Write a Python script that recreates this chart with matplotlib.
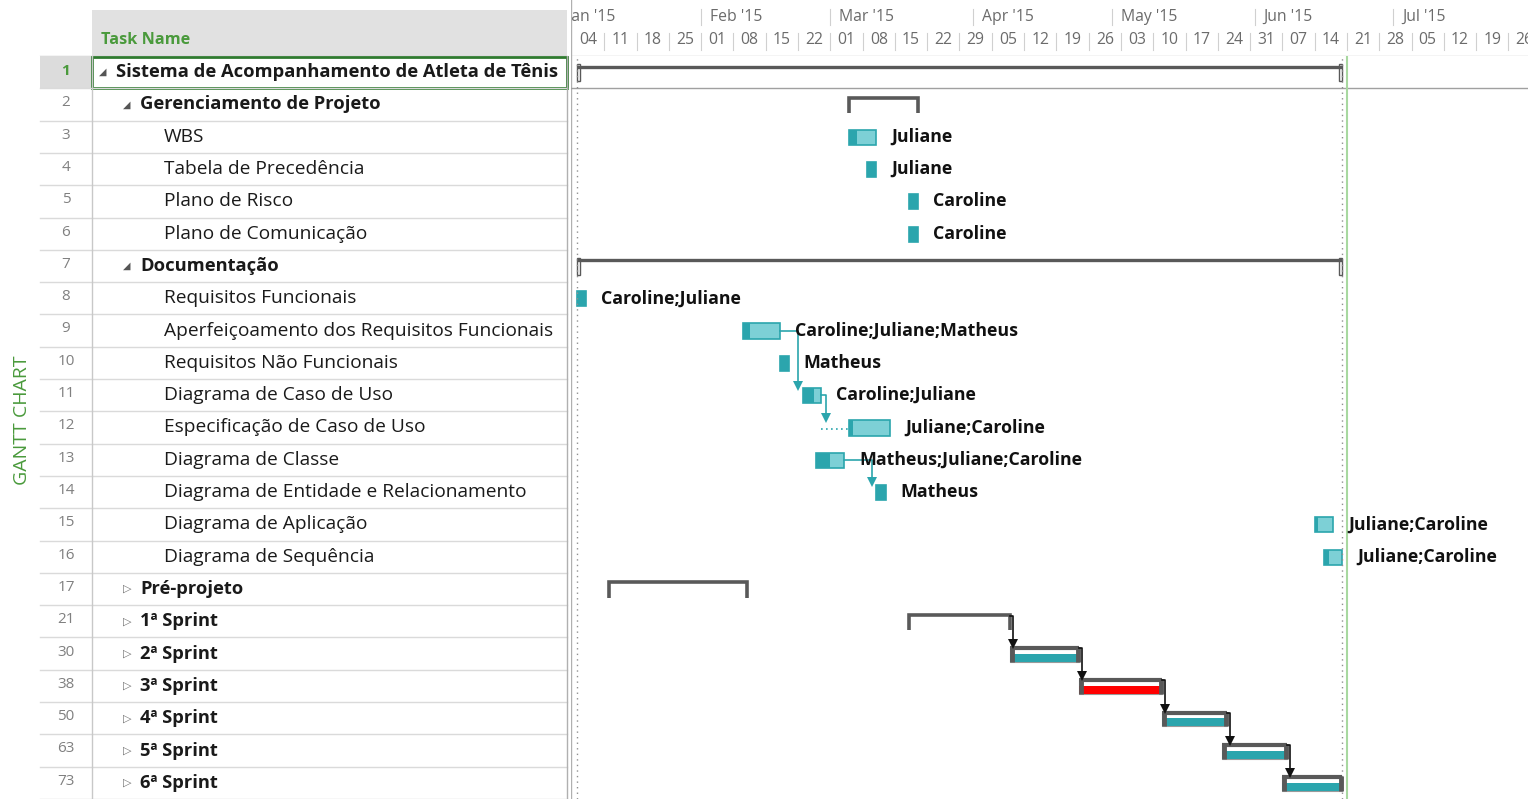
import datetime as dt
import matplotlib
matplotlib.use("Agg")
import matplotlib.pyplot as plt
import matplotlib.dates as mdates
from matplotlib.patches import Rectangle

plt.rcParams['font.family'] = ['Open Sans', 'DejaVu Sans']

# --- dados do projeto ---
row_ids = [1, 2, 3, 4, 5, 6, 7, 8, 9, 10, 11, 12, 13, 14, 15, 16, 17, 21, 30, 38, 50, 63, 73]
task_names = [
    "Sistema de Acompanhamento de Atleta de Tênis",
    "Gerenciamento de Projeto",
    "WBS",
    "Tabela de Precedência",
    "Plano de Risco",
    "Plano de Comunicação",
    "Documentação",
    "Requisitos Funcionais",
    "Aperfeiçoamento dos Requisitos Funcionais",
    "Requisitos Não Funcionais",
    "Diagrama de Caso de Uso",
    "Especificação de Caso de Uso",
    "Diagrama de Classe",
    "Diagrama de Entidade e Relacionamento",
    "Diagrama de Aplicação",
    "Diagrama de Sequência",
    "Pré-projeto",
    "1ª Sprint", "2ª Sprint", "3ª Sprint", "4ª Sprint", "5ª Sprint", "6ª Sprint",
]
levels = [0, 1, 2, 2, 2, 2, 1, 2, 2, 2, 2, 2, 2, 2, 2, 2, 1, 1, 1, 1, 1, 1, 1]
# 'open' = resumo expandido, 'closed' = resumo recolhido, '' = tarefa
outline = ['open', 'open', '', '', '', '', 'open', '', '', '', '', '', '', '', '', '',
           'closed', 'closed', 'closed', 'closed', 'closed', 'closed', 'closed']
kinds = ['proj', 'summary', 'task', 'task', 'task', 'task', 'proj',
         'task', 'task', 'task', 'task', 'task', 'task', 'task', 'task', 'task',
         'summary', 'summary', 'sprint', 'sprint', 'sprint', 'sprint', 'sprint']
starts = ['2015-01-05', '2015-03-05', '2015-03-05', '2015-03-09', '2015-03-18', '2015-03-18',
          '2015-01-05', '2015-01-05', '2015-02-10', '2015-02-18', '2015-02-23', '2015-03-05',
          '2015-02-26', '2015-03-11', '2015-06-14', '2015-06-16', '2015-01-12', '2015-03-18',
          '2015-04-09', '2015-04-24', '2015-05-12', '2015-05-25', '2015-06-07']
ends = ['2015-06-20', '2015-03-20', '2015-03-11', '2015-03-11', '2015-03-20', '2015-03-20',
        '2015-06-20', '2015-01-07', '2015-02-18', '2015-02-20', '2015-02-27', '2015-03-14',
        '2015-03-04', '2015-03-13', '2015-06-18', '2015-06-20', '2015-02-11', '2015-04-09',
        '2015-04-24', '2015-05-12', '2015-05-26', '2015-06-08', '2015-06-20']
progress = [0, 0, 0.3, 1, 1, 1, 0, 1, 0.2, 1, 0.6, 0.1, 0.5, 1, 0.2, 0.3, 0, 0, 1, 1, 1, 1, 1]
resources = ['', '', 'Juliane', 'Juliane', 'Caroline', 'Caroline', '',
             'Caroline;Juliane', 'Caroline;Juliane;Matheus', 'Matheus', 'Caroline;Juliane',
             'Juliane;Caroline', 'Matheus;Juliane;Caroline', 'Matheus', 'Juliane;Caroline',
             'Juliane;Caroline', '', '', '', '', '', '', '']
sprint_fill = {18: '#2ba5ad', 19: '#ff0000', 20: '#2ba5ad', 21: '#2ba5ad', 22: '#2ba5ad'}
waits = {11: '2015-02-27'}  # espera pontilhada antes da barra
links = [(8, 10), (10, 11), (12, 13), (17, 18), (18, 19), (19, 20), (20, 21), (21, 22)]
status_date = '2015-06-21'

GREEN = '#4a9a3c'
DARK = '#595959'
TEAL = '#2ba5ad'
LIGHT = '#7dd0d6'


def d(s):
    return mdates.date2num(dt.datetime.fromisoformat(s))


n = len(task_names)
W, H = 1528, 799
fig = plt.figure(figsize=(W / 100, H / 100), dpi=100)

head_px = 56
px_day = 4.613
t0 = d('2015-01-04')
xlim = (t0 - 1 / px_day, t0 + (W - 572) / px_day)

ax = fig.add_axes([571 / W, 0, (W - 571) / W, (H - head_px) / H])
axh = fig.add_axes([571 / W, (H - head_px) / H, (W - 571) / W, head_px / H])
tab = fig.add_axes([0, 0, 571 / W, (H - head_px) / H])
tabh = fig.add_axes([0, (H - head_px) / H, 571 / W, head_px / H])

for a in (ax, axh):
    a.set_xlim(*xlim)
ax.set_ylim(n - 0.5, -0.5)
axh.set_ylim(head_px, 0)
tab.set_xlim(0, 571)
tab.set_ylim(n - 0.5, -0.5)
tabh.set_xlim(0, 571)
tabh.set_ylim(head_px, 0)
for a in (ax, axh, tab, tabh):
    a.axis('off')

# --- cabeçalho da linha do tempo ---
sun = dt.date(2015, 1, 4)
while mdates.date2num(sun) < xlim[1]:
    x = mdates.date2num(sun)
    axh.text(x + 3.5, 40, sun.strftime('%d'), ha='center', va='center',
             fontsize=11.3, color='#6b6b6b', clip_on=True)
    if x > xlim[0] + 1:
        axh.plot([x, x], [33, 50], color='#d0d0d0', lw=0.8)
    sun += dt.timedelta(days=7)
for m in range(1, 8):
    x = mdates.date2num(dt.date(2015, m, 1))
    axh.annotate(dt.date(2015, m, 1).strftime("%b '15"), xy=(x, 17), xytext=(9, 0),
                 textcoords='offset pixels', va='center', fontsize=11.3,
                 color='#6b6b6b', annotation_clip=False, clip_on=True)
    if x > xlim[0]:
        axh.plot([x, x], [9, 25], color='#d0d0d0', lw=0.8)
axh.axhline(head_px - 0.5, color='#c8c8c8', lw=1)
axh.axvline(xlim[0], color='#b0b0b0', lw=1)

# --- cabeçalho da tabela ---
tabh.add_patch(Rectangle((92, 10), 475, head_px - 10, color='#e1e1e1', lw=0))
tabh.text(101, 40, 'Task Name', color=GREEN, fontsize=11.7, fontweight='bold', va='center')
tabh.axhline(head_px - 0.5, xmin=40 / 571, xmax=567 / 571, color='#c8c8c8', lw=1)

# --- tabela ---
tab.add_patch(Rectangle((40, -0.5), 52, 1, color='#dcdcdc', lw=0))
for i in range(n):
    tab.plot([40, 567], [i + 0.5, i + 0.5], color='#dadada', lw=1)
    tab.text(66, i - 0.05, str(row_ids[i]), ha='center', va='center', fontsize=11,
             color=GREEN if i == 0 else '#808080', fontweight='bold' if i == 0 else 'normal')
    lv = levels[i]
    if outline[i] == 'open':
        tab.text(103 + 24 * lv, i, '◢', ha='center', va='center', fontsize=7,
                 color='#555555', family='DejaVu Sans')
    elif outline[i] == 'closed':
        tab.text(103 + 24 * lv, i, '▷', ha='center', va='center', fontsize=8,
                 color='#707070', family='DejaVu Sans')
    bold = outline[i] != ''
    tab.text(116 + 24 * lv, i, task_names[i], va='center',
             fontsize=13.2 if bold else 13.8,
             fontweight='bold' if bold else 'normal', color='#1a1a1a')
tab.plot([92, 92], [-0.5, n - 0.5], color='#c8c8c8', lw=1)
tab.plot([567, 567], [-0.5, n - 0.5], color='#b0b0b0', lw=1)
tab.add_patch(Rectangle((92, -0.48), 475, 0.96, fill=False, edgecolor='#2f7a2f', lw=2))
fig.text(22 / W, 1 - 420 / H, 'GANTT CHART', rotation=90, ha='center', va='center',
         color=GREEN, fontsize=14)

# --- gráfico de Gantt ---
ax.axvline(xlim[0], color='#b0b0b0', lw=1)
ax.axhline(0.5, color='#a0a0a0', lw=1)
ax.axvline(d(starts[0]), color='#909090', lw=1, ls=(0, (1, 3)))
ax.axvline(d(ends[0]), color='#909090', lw=1, ls=(0, (1, 3)))
ax.axvline(d(status_date), color='#a8d8a0', lw=1.5)

for i in range(n):
    s, e = d(starts[i]), d(ends[i])
    k = kinds[i]
    if k == 'proj':
        ax.plot([s, e], [i - 0.17, i - 0.17], color=DARK, lw=2.4, solid_capstyle='butt')
        for x in (s, e - 0.8):
            ax.add_patch(Rectangle((x, i - 0.25), 0.8, 0.52, fill=False,
                                   edgecolor=DARK, lw=1))
    elif k == 'summary':
        ax.plot([s, s, e, e], [i + 0.27, i - 0.21, i - 0.21, i + 0.27], color=DARK,
                lw=2.6, solid_joinstyle='miter', solid_capstyle='butt')
    elif k == 'task':
        ax.add_patch(Rectangle((s, i - 0.22), e - s, 0.47, facecolor=LIGHT,
                               edgecolor=TEAL, lw=1.2))
        if progress[i] > 0:
            ax.add_patch(Rectangle((s, i - 0.22), (e - s) * progress[i], 0.47,
                                   facecolor=TEAL, lw=0))
        if i in waits:
            ax.plot([d(waits[i]), s], [i + 0.05, i + 0.05], color=TEAL, lw=1.2,
                    ls=(0, (1, 2)))
    elif k == 'sprint':
        ax.add_patch(Rectangle((s, i - 0.2), e - s, 0.45, facecolor='white',
                               edgecolor='#9a9a9a', lw=0.8))
        ax.add_patch(Rectangle((s, i + 0.0), e - s, 0.25,
                               facecolor=sprint_fill[i], lw=0))
        ax.plot([s, e], [i - 0.17, i - 0.17], color=DARK, lw=3, solid_capstyle='butt')
        for x in (s + 0.3, e - 0.3):
            ax.plot([x, x], [i - 0.2, i + 0.25], color=DARK, lw=3.5, solid_capstyle='butt')
    if resources[i]:
        ax.annotate(resources[i], xy=(e, i), xytext=(15, 0), textcoords='offset pixels',
                    va='center', fontsize=12.8, fontweight='bold', color='#111111')

# ligações entre tarefas
for p, q in links:
    pe = d(ends[p])
    qs = d(waits.get(q, starts[q]))
    task_link = kinds[p] == 'task'
    xd = max(pe + 1, qs - 1) if task_link else max(pe + 0.6, qs + 0.6)
    y0 = p + 0.0 if task_link else p - 0.17
    y1 = q - 0.3
    col = TEAL if task_link else '#111111'
    ax.plot([pe, xd, xd], [y0, y0, y1], color=col, lw=1.2)
    ax.plot([xd], [y1], marker='v', color=col, markersize=7, markeredgewidth=0)

fig.savefig('out.png', dpi=100)
